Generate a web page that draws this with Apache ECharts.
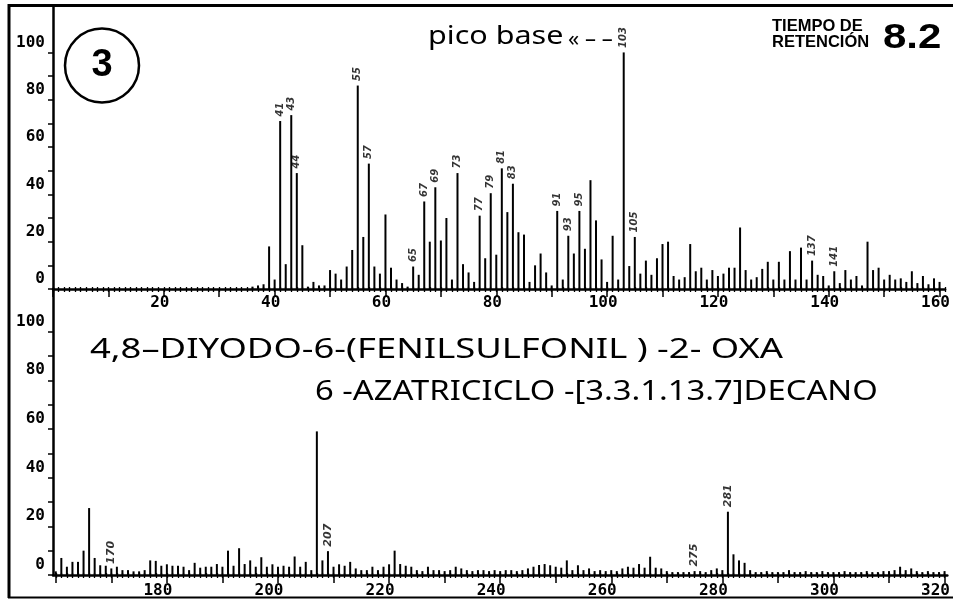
<!DOCTYPE html>
<html><head><meta charset="utf-8">
<script src="https://cdn.jsdelivr.net/npm/echarts@6/dist/echarts.min.js"></script>
<style>html,body{margin:0;padding:0;background:#fff}#c{width:953px;height:601px}</style>
</head><body><div id="c"></div>
<script>
// ---- data ----
const topStart = 36; // m/z of first value in topInt
const topInt = [
  1,1.5,2,18,
  4,71,10.5,73.5,49,18.5,1,3,1.5,1.5,
  8,6.5,4,9.5,16.5,86,22,53,9.5,6.5,
  31.5,9,4,2.5,1,9.5,6,37,20,43,
  20.5,30,4,49,10.5,7,3,31,13,40.5,
  14.5,51,32.5,44.5,24,23,3,10,15,7,
  1.5,33,4,22.5,15,33,17,46,29,12.5,
  3,22.5,4,100,9.7,22,6.5,12,6,13,
  19,20,5.5,4,5,19,7.5,9,4,8,
  5.5,6.5,9,9,26,8,4,5,8.5,11.5,
  4,11.5,4,16,4,17.5,4,12,6,5.5,
  1.5,7.5,2.5,8,4,5.5,1.5,20,8,9,
  4,6,4,4.5,3,7.5,2.5,5.5,2,4.5,3
];
const botStart = 160;
const botInt = [
  1.5,7,3.4,5.4,5.4,10,27.5,7,4,3.8,
  2.7,3.4,2,2,1.5,1.5,2,6,5.8,3.8,
  4.4,3.8,3.8,3.4,2,5,3,3.4,3.4,4.5,
  3.4,10,3.8,11,4.5,6,3.4,7.3,3.4,4.4,
  3.4,3.8,3.4,7.6,3.4,5.4,2,59,6,9.8,
  3.4,4.4,3.8,5.4,2.7,2,2,3.4,2,3.4,
  4.4,10,4.5,3.8,3.4,2,1.6,3.4,2,2,
  1.6,2,3.4,2.7,2,1.6,2,2,1.6,2,
  1.6,2,2,1.6,2,2.7,3.4,4.1,4.5,4,
  3.4,3,6,2,4,2,2.7,1.6,2,1.6,
  2,1.6,2.7,3.4,3,4.5,3,7.5,3,2.7,
  1.6,1.2,1.2,1.2,1.2,1.6,1.6,1.2,2,2.7,
  2,26,8.5,6,5,2,1.2,1.2,1.6,1.2,
  1.2,1.2,2,1.2,1.2,1.6,1.2,1.2,1.6,1.2,
  1.2,1.2,1.6,1.2,1.2,1.2,1.6,1.2,1.2,1.6,
  1.6,2,3.4,2,2.7,1.6,1.2,1.6,1.2,1.2,
  1.6
];
const topXLabels = [20,40,60,80,100,120,140,160];
const botXLabels = [180,200,220,240,260,280,300,320];
const yLabels = [0,20,40,60,80,100];
const yTicks = [0,10,20,30,40,50,60,70,80,90,100];
// handwritten peak notes: [m/z of peak the note sits on, text]
const topNotes = [[41,'41'],[43,'43'],[44,'44'],[55,'55'],[57,'57'],[65,'65'],[67,'67'],[69,'69'],[73,'73'],[77,'77'],[79,'79'],[81,'81'],[83,'83'],[91,'91'],[93,'93'],[95,'95'],[103,'103'],[105,'105'],[137,'137'],[141,'141']];
const botNotes = [[170,'170'],[209,'207'],[275,'275'],[281,'281']];

// ---- build ----
const topData = topInt.map((v,i)=>[topStart+i, v]);
const botData = botInt.map((v,i)=>[botStart+i, v]);
const range = (a,b,s)=>{const r=[];for(let x=a;x<=b;x+=s)r.push(x);return r;};
const topRange=[0,161], botRange=[159.5,320.5];
const tickFont = {fontFamily:'DejaVu Sans Mono', fontWeight:'bold', fontSize:16, color:'#000'};

function xAxes(g, rng, labels, labelShift, labelMargin){
  const base = {type:'value', gridIndex:g, min:rng[0], max:rng[1], position:'bottom', splitLine:{show:false}};
  const units = range(Math.ceil(rng[0]), Math.floor(rng[1]), 1);
  const tens = range(Math.ceil(rng[0]/10)*10, rng[1], 10);
  return [
    Object.assign({}, base, {
      axisLine:{show:true, onZero:false, lineStyle:{color:'#000', width:2.5}},
      axisTick:{show:true, customValues:units, length:3, lineStyle:{color:'#000', width:1.3}},
      axisLabel:Object.assign({show:true, customValues:labels, margin:labelMargin, padding:[0,labelShift,0,0]}, tickFont)
    }),
    Object.assign({}, base, {
      axisLine:{show:false, onZero:false},
      axisTick:{show:true, customValues:tens, length:8, lineStyle:{color:'#000', width:1.5}},
      axisLabel:{show:false}
    }),
    Object.assign({}, base, {
      axisLine:{show:false, onZero:false},
      axisTick:{show:true, inside:true, customValues:units, length:2, lineStyle:{color:'#000', width:1.3}},
      axisLabel:{show:false}
    })
  ];
}
function yAxis(g, max){
  return {type:'value', gridIndex:g, min:0, max:max, splitLine:{show:false},
    axisLine:{show:true, lineStyle:{color:'#000', width:2.5}},
    axisTick:{show:true, customValues:yTicks, length:5, lineStyle:{color:'#000', width:1.5}},
    axisLabel:Object.assign({show:true, customValues:yLabels, margin:8, verticalAlign:'bottom', padding:[0,0,2,0]}, tickFont)
  };
}
function noteSeries(xi, yi, notes, vals, start, fontSize){
  return {type:'scatter', xAxisIndex:xi, yAxisIndex:yi, symbolSize:1, itemStyle:{color:'rgba(0,0,0,0)'},
    silent:true,
    data: notes.map(([m,t])=>({value:[m, vals[m-start]], name:t})),
    label:{show:true, position:'top', distance:4, rotate:90, align:'left', verticalAlign:'middle',
      formatter:p=>p.name, fontFamily:'DejaVu Sans', fontWeight:'bold', fontStyle:'italic', fontSize:fontSize, color:'#000'}
  };
}

const chart = echarts.init(document.getElementById('c'), null, {renderer:'canvas'});
const textFont = 'Noto Sans';
chart.setOption({
  animation:false,
  backgroundColor:'#fff',
  grid:[
    {left:53, top:7, width:897, height:282},
    {left:53, top:289, width:897, height:286}
  ],
  xAxis:[].concat(
    xAxes(0, topRange, topXLabels, 8, 6),
    xAxes(1, botRange, botXLabels, 18, 8)
  ),
  yAxis:[yAxis(0,119.2), yAxis(1,117.5)],
  series:[
    {type:'bar', xAxisIndex:0, yAxisIndex:0, data:topData, barWidth:2, itemStyle:{color:'#000'}, silent:true},
    {type:'bar', xAxisIndex:3, yAxisIndex:1, data:botData, barWidth:2, itemStyle:{color:'#000'}, silent:true},
    noteSeries(0,0,topNotes,topInt,topStart,10),
    noteSeries(3,1,botNotes,botInt,botStart,11)
  ],
  graphic:[
    {type:'line', shape:{x1:9, y1:4, x2:9, y2:598}, style:{stroke:'#000', lineWidth:3}},
    {type:'line', shape:{x1:8, y1:5.5, x2:953, y2:5.5}, style:{stroke:'#000', lineWidth:3}},
    {type:'line', shape:{x1:8, y1:597.5, x2:953, y2:597.5}, style:{stroke:'#000', lineWidth:2}},
    {type:'circle', shape:{cx:102, cy:65.5, r:37}, style:{fill:'none', stroke:'#000', lineWidth:2.5}},
    {type:'text', x:102, y:66, style:{text:'3', font:'bold 38px "Liberation Sans"', fill:'#000', align:'center', verticalAlign:'middle'}},
    {type:'text', x:428, y:37, scaleX:1.22, style:{text:'pico base', font:'25px "'+textFont+'"', fill:'#000', align:'left', verticalAlign:'middle'}},
    {type:'text', x:568, y:40, style:{text:'« – –', font:'22px "'+textFont+'"', fill:'#000', align:'left', verticalAlign:'middle'}},
    {type:'text', x:772, y:26, style:{text:'TIEMPO DE', font:'bold 16.5px "Liberation Sans"', fill:'#000', align:'left', verticalAlign:'middle'}},
    {type:'text', x:772, y:42, style:{text:'RETENCIÓN', font:'bold 16.5px "Liberation Sans"', fill:'#000', align:'left', verticalAlign:'middle'}},
    {type:'text', x:883, y:38, scaleX:1.2, style:{text:'8.2', font:'bold 35px "Liberation Sans"', fill:'#000', align:'left', verticalAlign:'middle'}},
    {type:'text', x:90, y:350, scaleX:1.3, style:{text:'4,8–DIYODO-6-(FENILSULFONIL ) -2- OXA', font:'28px "'+textFont+'"', fill:'#000', align:'left', verticalAlign:'middle'}},
    {type:'text', x:315, y:392, scaleX:1.17, style:{text:'6 -AZATRICICLO -[3.3.1.13.7]DECANO', font:'28px "'+textFont+'"', fill:'#000', align:'left', verticalAlign:'middle'}}
  ]
});
</script></body></html>
